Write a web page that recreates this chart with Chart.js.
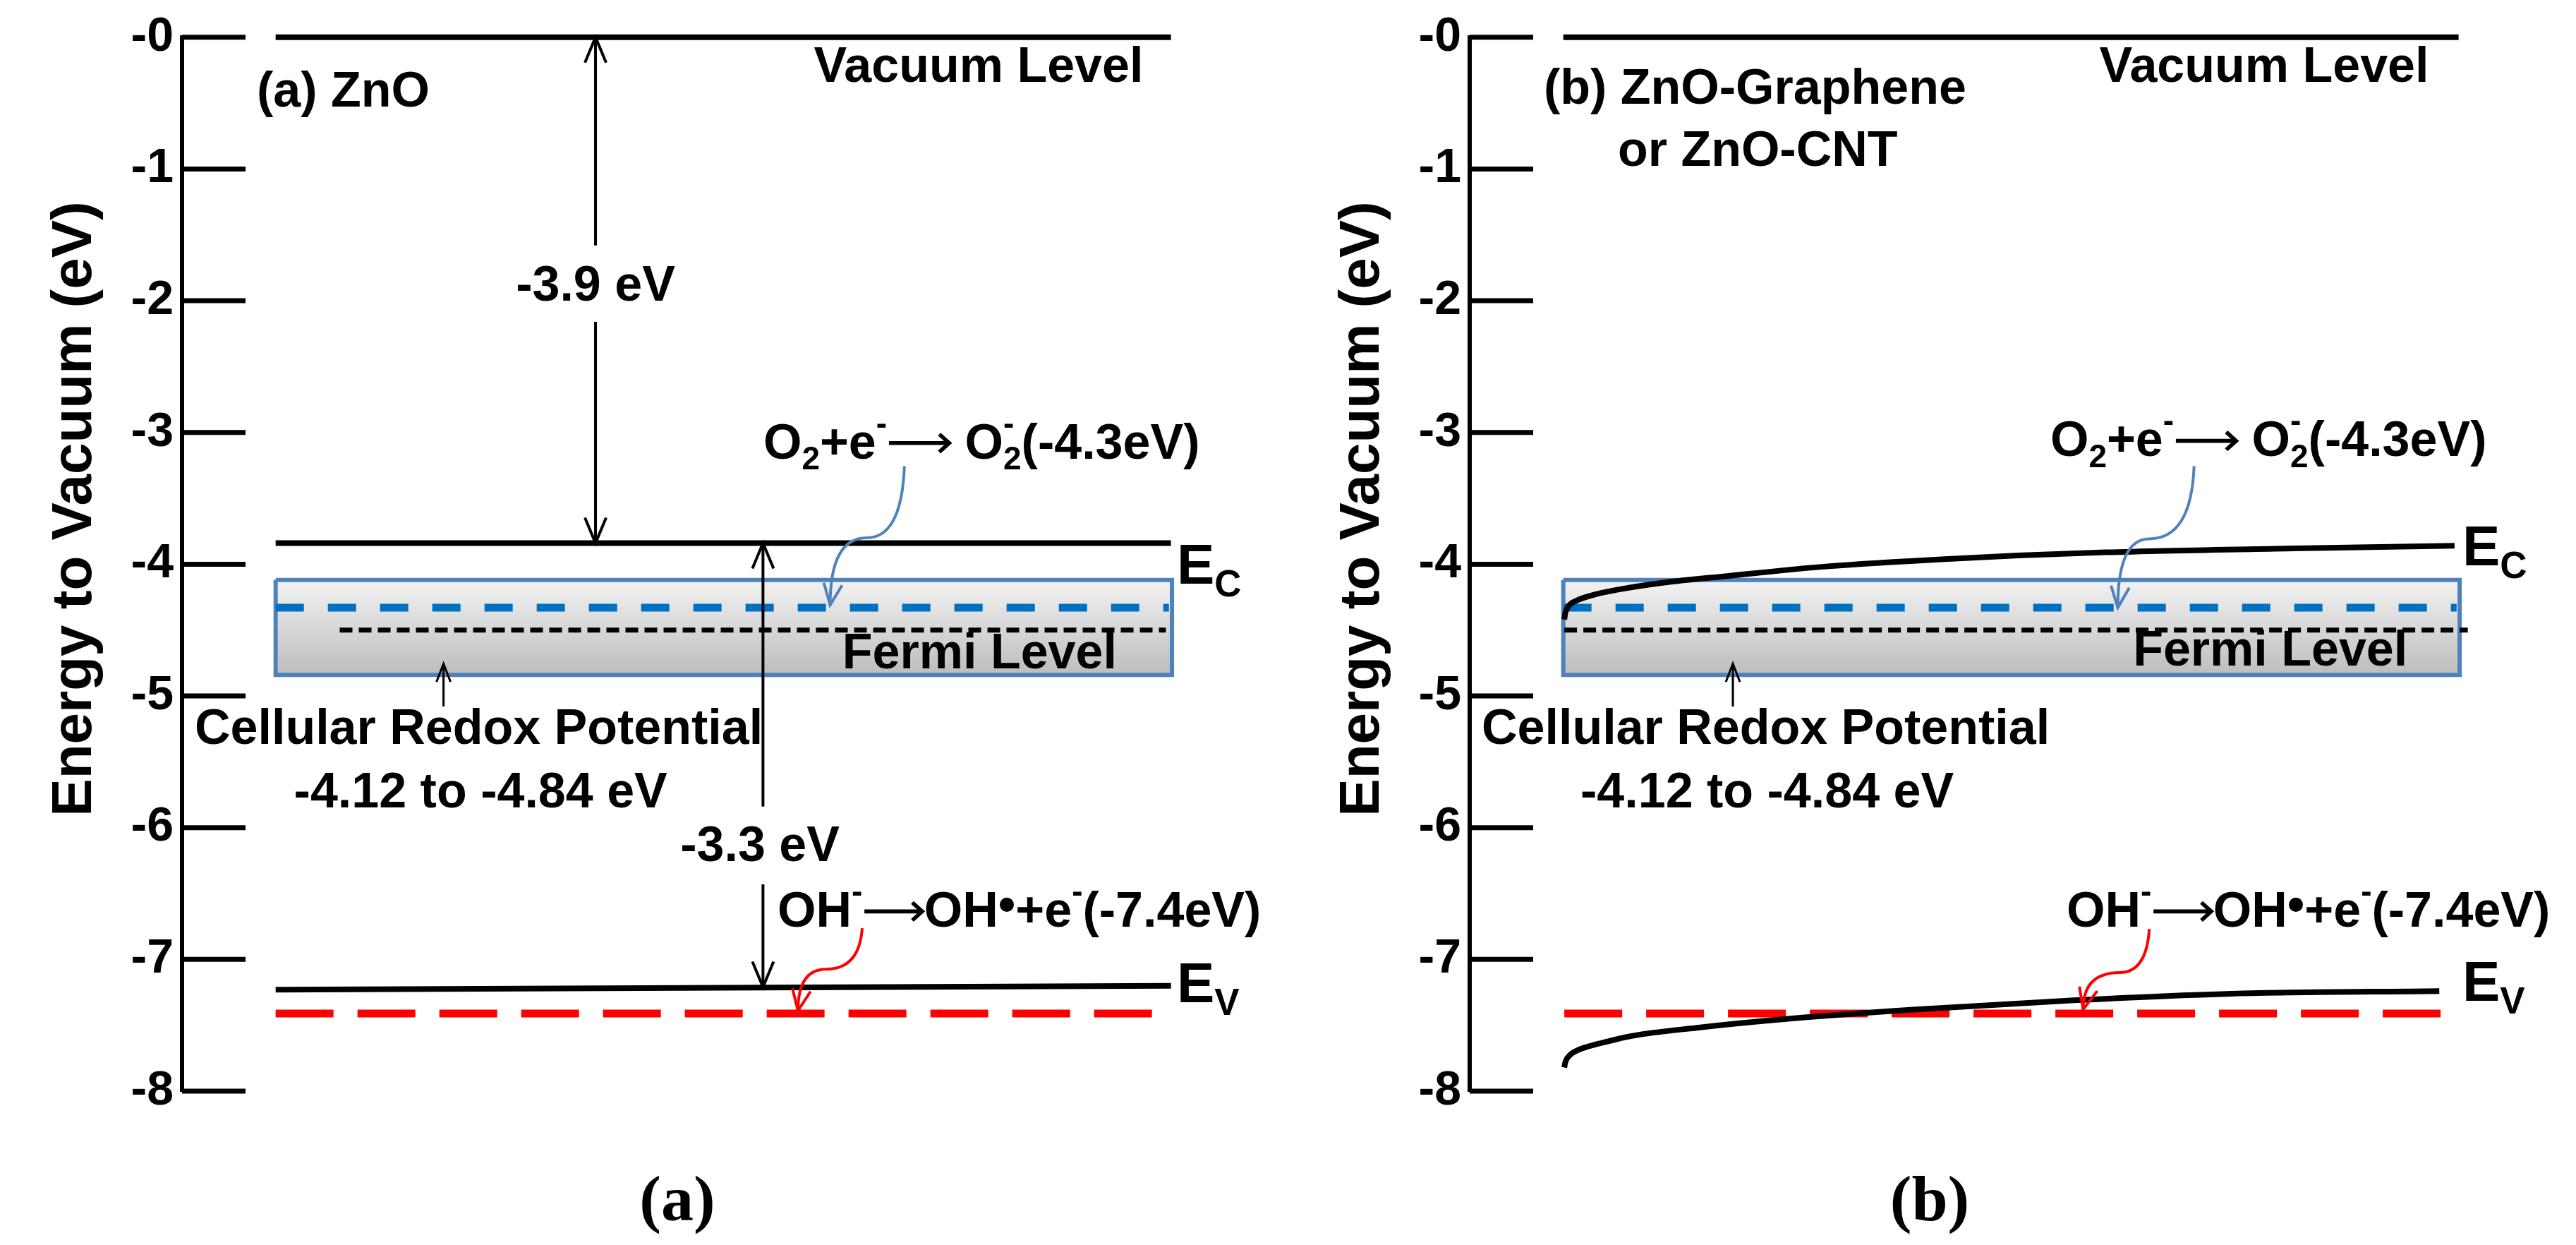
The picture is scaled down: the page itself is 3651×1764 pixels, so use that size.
<!DOCTYPE html>
<html>
<head>
<meta charset="utf-8">
<title>ZnO band diagram</title>
<script src="https://cdn.jsdelivr.net/npm/chart.js@4.4.1/dist/chart.umd.min.js"></script>
<style>
    html, body { margin: 0; padding: 0; background: #fff; }
    #page { position: relative; width: 3651px; height: 1764px; overflow: hidden; }
    .panel { position: absolute; top: 0; height: 1764px; }
    .caption {
        position: absolute; top: 1652px; width: 200px; text-align: center;
        font: bold 92px 'Liberation Serif', 'Times New Roman', serif; line-height: 1;
    }
</style>
</head>
<body>
<div id="page">
    <div class="panel" style="left:0;width:1825px"><canvas id="panelA"></canvas></div>
    <div class="panel" style="left:1825px;width:1826px"><canvas id="panelB"></canvas></div>
    <div class="caption" style="left:860px">(a)</div>
    <div class="caption" style="left:2635px">(b)</div>
</div>
<script>
/**
 * Band diagram data (energies in eV, position axis is unitless 0..10)
 */
const energyTicks = [0, -1, -2, -3, -4, -5, -6, -7, -8];

const vacuumLevel = 0;
const o2RedoxLevel = -4.33;   // O2 + e- -> O2-
const ohRedoxLevel = -7.41;   // OH- -> OH* + e-
const fermiLevel = -4.5;
const cellularRedox = [-4.12, -4.84];

// extents of the levels along the position axis
const bandX = [0.92, 9.72];
const boxX = [0.92, 9.73];
const o2LineX = [0.92, 9.7];
const fermiXA = [1.55, 9.67];
const fermiXB = [0.93, 9.81];
const ohLineXA = [0.92, 9.56];
const ohLineXB = [0.93, 9.6];

// (a) ZnO - flat bands
const ecZnO = [-3.84, -3.84];
const evZnO = [-7.23, -7.2];

// (b) ZnO-Graphene / ZnO-CNT - bent bands
const ecHybridX = [0.93, 0.94, 0.97, 1.04, 1.23, 1.48, 1.91, 2.53, 3.46, 4.70, 6.25, 8.10, 9.68];
const ecHybridY = [-4.42, -4.37, -4.32, -4.28, -4.23, -4.19, -4.14, -4.09, -4.02, -3.96, -3.91, -3.88, -3.86];
const evHybridX = [0.93, 0.94, 0.98, 1.06, 1.17, 1.37, 1.60, 2.22, 3.15, 4.39, 5.94, 7.49, 9.53];
const evHybridY = [-7.82, -7.78, -7.73, -7.69, -7.66, -7.62, -7.58, -7.52, -7.45, -7.38, -7.31, -7.26, -7.24];

const FONT = "'Liberation Sans', Arial, Helvetica, sans-serif";

function pairs(xs, ys) {
    return xs.map((x, i) => ({ x: x, y: ys[i] }));
}

function flat(xs, level) {
    return xs.map(x => ({ x: x, y: level }));
}

function boxGradient(c) {
    const chart = c.chart;
    if (!chart.chartArea) return '#dcdcdc';
    const y = chart.scales.y;
    const g = chart.ctx.createLinearGradient(0, y.getPixelForValue(cellularRedox[0]), 0, y.getPixelForValue(cellularRedox[1]));
    g.addColorStop(0, '#f3f3f3');
    g.addColorStop(1, '#bdbdbd');
    return g;
}

/**
 * Datasets for one panel
 */
function buildDatasets(p) {
    // clip off: the vacuum level sits right on the top edge of the plot
    const common = { showLine: true, pointRadius: 0, borderCapStyle: 'butt', clip: false };
    const top = cellularRedox[0], bot = cellularRedox[1];
    return [
        { ...common, label: 'Vacuum level', data: flat(bandX, vacuumLevel), borderColor: '#000', borderWidth: 8 },
        { ...common, label: 'Ec', data: p.ec, borderColor: '#000', borderWidth: 8, cubicInterpolationMode: 'monotone' },
        { ...common, label: 'Ev', data: p.ev, borderColor: '#000', borderWidth: 8, cubicInterpolationMode: 'monotone' },
        { ...common, label: 'O2/O2-', data: flat(o2LineX, o2RedoxLevel), borderColor: '#0070c0', borderWidth: 11, borderDash: [40, 34] },
        { ...common, label: 'Fermi level', data: flat(p.fermiX, fermiLevel), borderColor: '#000', borderWidth: 7, borderDash: [18, 9] },
        { ...common, label: 'OH-/OH*', data: flat(p.ohX, ohRedoxLevel), borderColor: '#ff0000', borderWidth: 11, borderDash: [82, 34] },
        {
            ...common, label: 'Cellular redox potential', order: 5,
            data: [
                { x: boxX[0], y: top }, { x: boxX[1], y: top },
                { x: boxX[1], y: bot }, { x: boxX[0], y: bot }, { x: boxX[0], y: top }
            ],
            borderColor: '#4f81bd', borderWidth: 6, fill: 'shape', backgroundColor: boxGradient
        }
    ];
}

function arrowHead(ctx, tx, ty, ang, len, half) {
    const c = Math.cos(ang), s = Math.sin(ang);
    ctx.beginPath();
    ctx.moveTo(tx - len * c + half * s, ty - len * s - half * c);
    ctx.lineTo(tx, ty);
    ctx.lineTo(tx - len * c - half * s, ty - len * s + half * c);
    ctx.stroke();
}

/**
 * Text with sub/superscripts: parts are strings, {sub, sup}, {text, raise} or {arrow: em}
 */
function drawRich(ctx, x, y, parts, size, align) {
    const big = `bold ${size}px ${FONT}`;
    const small = `bold ${Math.round(size * 0.66)}px ${FONT}`;
    const pieces = parts.map(p => typeof p === 'string' ? { text: p } : p);
    const widths = pieces.map(p => {
        if (p.arrow) return p.arrow * size;
        if (p.text !== undefined) {
            ctx.font = big;
            return ctx.measureText(p.text).width;
        }
        ctx.font = small;
        return Math.max(p.sub ? ctx.measureText(p.sub).width : 0, p.sup ? ctx.measureText(p.sup).width : 0);
    });
    let cx = x;
    if (align === 'center') cx -= widths.reduce((a, b) => a + b, 0) / 2;
    ctx.textAlign = 'left';
    ctx.textBaseline = 'alphabetic';
    pieces.forEach((p, i) => {
        if (p.arrow) {
            const ay = y - size * 0.31;
            const x0 = cx + size * 0.04, x1 = cx + widths[i] - size * 0.04;
            ctx.save();
            ctx.strokeStyle = ctx.fillStyle;
            ctx.lineWidth = size * 0.08;
            ctx.beginPath();
            ctx.moveTo(x0, ay);
            ctx.lineTo(x1 - 3, ay);
            ctx.stroke();
            arrowHead(ctx, x1, ay, 0, size * 0.2, size * 0.18);
            ctx.restore();
        } else if (p.text !== undefined) {
            ctx.font = big;
            ctx.fillText(p.text, cx, y - (p.raise || 0));
        } else {
            ctx.font = small;
            if (p.sub) ctx.fillText(p.sub, cx, y + size * 0.22);
            if (p.sup) ctx.fillText(p.sup, cx, y - size * 0.5);
        }
        cx += widths[i];
    });
}

function drawArrow(ctx, X, Y, a) {
    const x = X(a.x), y0 = Y(a.from), y1 = Y(a.to);
    ctx.strokeStyle = '#000';
    ctx.lineWidth = a.width;
    ctx.beginPath();
    if (a.gap) {
        ctx.moveTo(x, y0); ctx.lineTo(x, Y(a.gap[0]));
        ctx.moveTo(x, Y(a.gap[1])); ctx.lineTo(x, y1);
    } else {
        ctx.moveTo(x, y0); ctx.lineTo(x, y1);
    }
    ctx.stroke();
    const down = y1 > y0;
    if (a.heads[0]) arrowHead(ctx, x, y0, down ? -Math.PI / 2 : Math.PI / 2, a.head[0], a.head[1]);
    if (a.heads[1]) arrowHead(ctx, x, y1, down ? Math.PI / 2 : -Math.PI / 2, a.head[0], a.head[1]);
}

// curly connector from a reaction label down to its level
function drawSquiggle(ctx, X, Y, s) {
    const p = s.pts.map(q => ({ x: X(q[0]), y: Y(q[1]) }));
    ctx.strokeStyle = s.color;
    ctx.lineWidth = 4;
    ctx.beginPath();
    ctx.moveTo(p[0].x, p[0].y);
    ctx.quadraticCurveTo(p[0].x - 4, p[1].y, p[1].x, p[1].y);
    ctx.quadraticCurveTo(p[2].x, p[1].y, p[2].x, p[2].y);
    ctx.stroke();
    arrowHead(ctx, p[2].x, p[2].y, Math.atan2(p[2].y - p[1].y, 0.25 * (p[2].x - p[1].x)), 30, 13);
}

function makeNotes(notes) {
    return {
        id: 'bandNotes',
        afterDraw(chart) {
            const ctx = chart.ctx;
            const area = chart.chartArea;
            const xs = chart.scales.x, ys = chart.scales.y;
            const X = v => xs.getPixelForValue(v);
            const Y = v => ys.getPixelForValue(v);

            ctx.save();
            ctx.fillStyle = '#000';
            ctx.strokeStyle = '#000';
            ctx.lineJoin = 'miter';

            // tick marks point into the plot
            ctx.lineWidth = 7;
            ys.ticks.forEach(t => {
                const y = Y(t.value);
                ctx.beginPath();
                ctx.moveTo(area.left, y);
                ctx.lineTo(area.left + 90, y);
                ctx.stroke();
            });

            // axis title
            ctx.save();
            ctx.translate(area.left - 129, Y(-3.58));
            ctx.rotate(-Math.PI / 2);
            ctx.font = `bold 80px ${FONT}`;
            ctx.textAlign = 'center';
            ctx.textBaseline = 'alphabetic';
            ctx.fillText('Energy to Vacuum (eV)', 0, 0);
            ctx.restore();

            notes.arrows.forEach(a => drawArrow(ctx, X, Y, a));
            notes.squiggles.forEach(s => drawSquiggle(ctx, X, Y, s));
            ctx.fillStyle = '#000';
            ctx.strokeStyle = '#000';
            notes.texts.forEach(t => drawRich(ctx, X(t.at[0]), Y(t.at[1]), t.parts, t.size || 70, t.align));
            ctx.restore();
        }
    };
}

const o2Text = ['O', { sub: '2' }, '+e', { sup: '-' }, { arrow: 1.3 }, ' O', { sub: '2', sup: '-' }, '(-4.3eV)'];
const ohText = ['OH', { sup: '-' }, { arrow: 1.25 }, 'OH', { text: '\u2022', raise: 8 }, '+e', { sup: '-' }, '(-7.4eV)'];
const cellArrow = { from: -4.755, to: -5.08, heads: [true, false], head: [26, 10], width: 3 };

const notesA = {
    texts: [
        { at: [0.735, -0.525], parts: ['(a) ZnO'] },
        { at: [6.21, -0.337], parts: ['Vacuum Level'] },
        { at: [4.064, -1.997], parts: ['-3.9 eV'], align: 'center' },
        { at: [5.714, -3.197], parts: o2Text },
        { at: [9.778, -4.15], parts: ['E', { sub: 'C' }], size: 80 },
        { at: [6.49, -4.79], parts: ['Fermi Level'] },
        { at: [0.125, -5.365], parts: ['Cellular Redox Potential'] },
        { at: [1.10, -5.847], parts: ['-4.12 to -4.84 eV'] },
        { at: [5.68, -6.254], parts: ['-3.3 eV'], align: 'center' },
        { at: [5.853, -6.752], parts: ohText },
        { at: [9.778, -7.325], parts: ['E', { sub: 'V' }], size: 80 }
    ],
    arrows: [
        { x: 4.064, from: 0, to: -3.84, gap: [-1.58, -2.16], heads: [true, true], head: [36, 15], width: 4 },
        { x: 5.71, from: -3.84, to: -7.21, gap: [-5.84, -6.43], heads: [true, true], head: [36, 15], width: 4 },
        { ...cellArrow, x: 2.57 }
    ],
    squiggles: [
        { color: '#4f81bd', pts: [[7.10, -3.256], [6.73, -3.80], [6.37, -4.31]] },
        { color: '#ff0000', pts: [[6.685, -6.763], [6.33, -7.074], [6.054, -7.39]] }
    ]
};

const notesB = {
    texts: [
        { at: [0.728, -0.503], parts: ['(b) ZnO-Graphene'] },
        { at: [1.456, -0.975], parts: ['or ZnO-CNT'] },
        { at: [6.19, -0.337], parts: ['Vacuum Level'] },
        { at: [5.707, -3.18], parts: o2Text },
        { at: [9.757, -4.01], parts: ['E', { sub: 'C' }], size: 80 },
        { at: [6.52, -4.77], parts: ['Fermi Level'] },
        { at: [0.118, -5.365], parts: ['Cellular Redox Potential'] },
        { at: [1.089, -5.847], parts: ['-4.12 to -4.84 eV'] },
        { at: [5.867, -6.752], parts: ohText },
        { at: [9.757, -7.315], parts: ['E', { sub: 'V' }], size: 80 }
    ],
    arrows: [
        { ...cellArrow, x: 2.587 }
    ],
    squiggles: [
        { color: '#4f81bd', pts: [[7.12, -3.256], [6.68, -3.807], [6.37, -4.33]] },
        { color: '#ff0000', pts: [[6.68, -6.769], [6.39, -7.10], [6.03, -7.379]] }
    ]
};

function makeChart(id, datasets, notes, padRight) {
    return new Chart(document.getElementById(id), {
        type: 'scatter',
        data: { datasets: datasets },
        options: {
            devicePixelRatio: 1,
            responsive: true,
            maintainAspectRatio: false,
            animation: false,
            events: [],
            layout: { padding: { left: 0, top: 52, right: padRight, bottom: 218 } },
            plugins: {
                legend: { display: false },
                tooltip: { enabled: false }
            },
            scales: {
                x: { type: 'linear', min: 0, max: 10, display: false },
                y: {
                    type: 'linear',
                    min: -8,
                    max: 0,
                    afterBuildTicks: s => { s.ticks = energyTicks.map(v => ({ value: v })); },
                    afterFit: s => { s.width = 258; },
                    grid: { display: false, drawTicks: false },
                    border: { display: true, color: '#000', width: 6 },
                    ticks: {
                        padding: 12,
                        color: '#000',
                        font: { family: FONT, size: 68, weight: 'bold' },
                        callback: v => (v === 0 ? '-0' : String(v))
                    }
                }
            }
        },
        plugins: [makeNotes(notes)]
    });
}

makeChart('panelA', buildDatasets({
    ec: pairs(bandX, ecZnO),
    ev: pairs(bandX, evZnO),
    fermiX: fermiXA,
    ohX: ohLineXA
}), notesA, 125);

makeChart('panelB', buildDatasets({
    ec: pairs(ecHybridX, ecHybridY),
    ev: pairs(evHybridX, evHybridY),
    fermiX: fermiXB,
    ohX: ohLineXB
}), notesB, 126);
</script>
</body>
</html>
